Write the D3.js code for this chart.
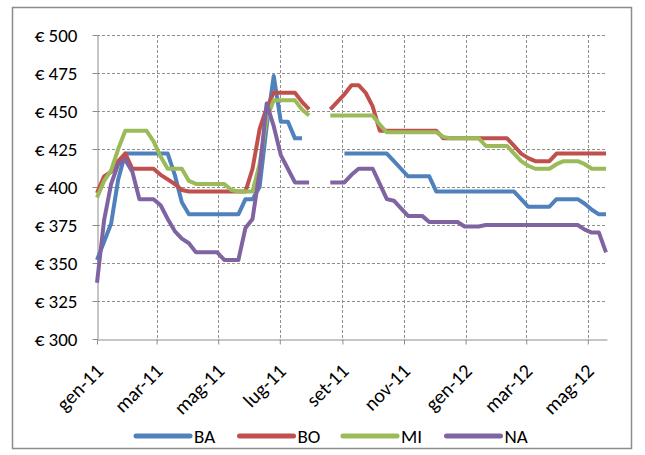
<!DOCTYPE html>
<html>
<head>
<meta charset="utf-8">
<script src="https://cdn.jsdelivr.net/npm/d3@7"></script>
<style>
  html, body { margin: 0; padding: 0; background: #fff; }
  svg { display: block; font-family: Calibri, Carlito, Lato, "Open Sans", sans-serif; }
</style>
</head>
<body>
<svg id="chart" width="645" height="455"></svg>
<script>
// Weekly price series per city (€), first week starting 1 Jan 2011; null = no quotation (August break)
const seriesNames  = ["BA", "BO", "MI", "NA"];
const seriesColors = ["#4F81BD", "#C0504D", "#9BBB59", "#8064A2"];
const firstWeek = "2011-01-01";
const axisEnd   = "2012-05-20";

const BA = [
  352, 364, 376, 405, 422, 422, 422, 422, 422, 422, 422, 408, 390,
  382, 382, 382, 382, 382, 382, 382, 382, 392, 392, 400, 440, 473,
  443, 443, 432, 432, null, null, null, null, null,
  422, 422, 422, 422, 422, 422, 422, 417, 412, 407, 407, 407, 407,
  397, 397, 397, 397, 397, 397, 397, 397, 397, 397, 397, 397,
  392, 387, 387, 387, 387, 392, 392, 392, 392, 389, 385, 382, 382
];
const BO = [
  396, 407, 410, 417, 422, 412, 412, 412, 412, 408, 405, 402, 398,
  397, 397, 397, 397, 397, 397, 397, 397, 397, 412, 438, 452,
  462, 462, 462, 462, 456, 451, null, null,
  451, 456, 461, 467, 467, 462, 453,
  437, 437, 437, 437, 437, 437, 437, 437, 437,
  432, 432, 432, 432, 432, 432, 432, 432, 432, 432,
  427, 422, 419, 417, 417, 417,
  422, 422, 422, 422, 422, 422, 422, 422
];
const MI = [
  393, 404, 411, 425, 437, 437, 437, 437, 430, 420, 412, 412, 412,
  404, 402, 402, 402, 402, 402, 398, 397, 397, 397, 415, 445,
  457, 457, 457, 457, 451, 447, null, null,
  447, 447, 447, 447, 447, 447, 447, 441,
  436, 436, 436, 436, 436, 436, 436, 436, 433,
  432, 432, 432, 432, 432, 427, 427, 427, 427,
  422, 417, 414, 412, 412, 412, 415, 417, 417, 417, 415, 412, 412, 412
];
const NA = [
  337, 378, 402, 415, 418, 410, 392, 392, 392, 388, 379, 371, 366, 363,
  357, 357, 357, 357, 352, 352, 352, 373, 379, 410, 455, 440, 421, 412,
  403, 403, 403, null, null, 403, 403, 403, 408, 412, 412, 412,
  402, 392, 391, 386, 381, 381, 381, 377, 377, 377, 377, 377,
  374, 374, 374,
  375, 375, 375, 375, 375, 375, 375, 375, 375, 375, 375, 375, 375, 375,
  372, 370, 370, 357
];
const seriesValues = [BA, BO, MI, NA];

const yTicks = [300, 325, 350, 375, 400, 425, 450, 475, 500];
const monthLabels = ["gen", "feb", "mar", "apr", "mag", "giu", "lug", "ago", "set", "ott", "nov", "dic"];

// ---- layout ----
const svg = d3.select("#chart");
const plot = { left: 97, right: 607, top: 35, bottom: 339 };
const parse = d3.utcParse("%Y-%m-%d");
const start = parse(firstWeek);
const weeks = d3.range(BA.length).map(i => d3.utcDay.offset(start, 7 * i));

const x = d3.scaleUtc().domain([start, parse(axisEnd)]).range([plot.left, plot.right]);
const y = d3.scaleLinear().domain([300, 500]).range([plot.bottom, plot.top]);

// outer frame
svg.append("rect")
  .attr("x", 12.5).attr("y", 7.5).attr("width", 619).attr("height", 441)
  .attr("fill", "#fff").attr("stroke", "#8c8c8c").attr("stroke-width", 1.5);

const xTickDates = d3.utcMonth.every(2).range(start, parse(axisEnd));

// dashed gridlines
const grid = svg.append("g").attr("stroke", "#8f8f8f").attr("stroke-width", 1)
  .attr("stroke-dasharray", "3,2");
grid.selectAll("line.h").data(yTicks.filter(v => v > 300)).join("line")
  .attr("class", "h")
  .attr("x1", plot.left).attr("x2", plot.right)
  .attr("y1", d => Math.round(y(d)) + 0.5).attr("y2", d => Math.round(y(d)) + 0.5);
grid.selectAll("line.v").data(xTickDates.slice(1)).join("line")
  .attr("class", "v")
  .attr("y1", plot.top).attr("y2", plot.bottom)
  .attr("x1", d => Math.round(x(d)) + 0.5).attr("x2", d => Math.round(x(d)) + 0.5);

// y axis
const yAxis = svg.append("g")
  .attr("transform", `translate(${plot.left + 0.5},0)`)
  .call(d3.axisLeft(y).tickValues(yTicks).tickSize(5).tickSizeOuter(0).tickPadding(15)
    .tickFormat(d => "€ " + d));
yAxis.select(".domain").attr("stroke", "#8c8c8c");
yAxis.selectAll(".tick line").attr("stroke", "#8c8c8c");
yAxis.selectAll(".tick text").attr("font-size", 19).attr("fill", "#000");
yAxis.attr("font-family", null);

// x axis
const xAxis = svg.append("g")
  .attr("transform", `translate(0,${plot.bottom + 0.5})`)
  .call(d3.axisBottom(x).tickValues(xTickDates).tickSize(5).tickSizeOuter(0)
    .tickFormat(d => monthLabels[d.getUTCMonth()] + "-" + String(d.getUTCFullYear()).slice(2)));
xAxis.select(".domain").attr("stroke", "#8c8c8c");
xAxis.selectAll(".tick line").attr("stroke", "#8c8c8c");
xAxis.selectAll(".tick text")
  .attr("font-size", 20).attr("fill", "#000")
  .attr("text-anchor", "end")
  .attr("x", 0).attr("y", 0).attr("dy", "0.35em")
  .attr("transform", "translate(2,28) rotate(-45)");
xAxis.attr("font-family", null);

// series lines
const line = d3.line()
  .defined(d => d.v != null)
  .x(d => x(d.date))
  .y(d => y(d.v));

svg.append("g").selectAll("path")
  .data(seriesValues.map((vals, i) => ({
    name: seriesNames[i],
    color: seriesColors[i],
    points: vals.map((v, j) => ({ date: weeks[j], v }))
  })))
  .join("path")
  .attr("fill", "none")
  .attr("stroke", d => d.color)
  .attr("stroke-width", 4)
  .attr("stroke-linejoin", "round")
  .attr("stroke-linecap", "butt")
  .attr("d", d => line(d.points));

// legend
const legend = svg.append("g").attr("transform", "translate(136,436)");
const item = legend.selectAll("g").data(seriesNames).join("g")
  .attr("transform", (d, i) => `translate(${i * 103.5},0)`);
item.append("line")
  .attr("x1", 0).attr("x2", 54).attr("y1", 0).attr("y2", 0)
  .attr("stroke", (d, i) => seriesColors[i])
  .attr("stroke-width", 5).attr("stroke-linecap", "round");
item.append("text")
  .attr("x", 58).attr("y", 0).attr("dy", "0.35em")
  .attr("font-size", 19).attr("fill", "#000")
  .text(d => d);
</script>
</body>
</html>
